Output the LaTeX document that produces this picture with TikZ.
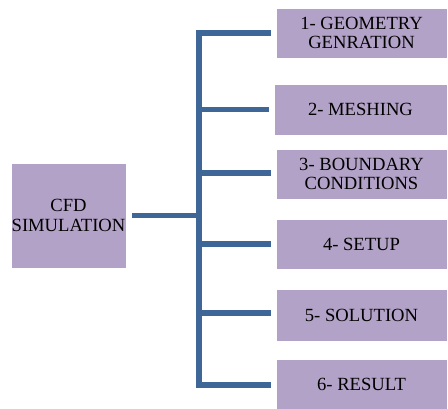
\documentclass[tikz,border=0pt]{standalone}
\usepackage{fontspec}
\setmainfont{Liberation Serif}
\definecolor{boxfill}{HTML}{B3A2C7}
\definecolor{linecol}{HTML}{3E6696}
\begin{document}
\begin{tikzpicture}[x=1pt,y=-1pt,
  box/.style={rectangle,fill=boxfill,draw=white,line width=0.6pt,inner sep=0pt,align=center,
    font=\fontsize{18.6}{19.5}\selectfont,text=black},
  conn/.style={draw=linecol,line width=5.5pt,line join=miter,line cap=butt}]
\useasboundingbox (0,0) rectangle (448,409);
\node[box,minimum width=115pt,minimum height=105pt] (cfd) at (68.5,215.5) {CFD\\SIMULATION};
\node[box,minimum width=171pt,minimum height=50pt] (g1) at (361.5,33) {1- GEOMETRY\\GENRATION};
\node[box,minimum width=173pt,minimum height=51pt] (g2) at (360.5,109.5) {2- MESHING};
\node[box,minimum width=171pt,minimum height=50pt] (g3) at (361.5,174) {3- BOUNDARY\\CONDITIONS};
\node[box,minimum width=171pt,minimum height=50pt] (g4) at (361.5,244) {4- SETUP};
\node[box,minimum width=171pt,minimum height=52pt] (g5) at (361.5,315) {5- SOLUTION};
\node[box,minimum width=171pt,minimum height=50pt] (g6) at (361.5,384) {6- RESULT};
\coordinate (top) at (199,33);
\coordinate (bot) at (199,385);
\coordinate (mid) at (199,215.5);
\draw[conn] ([xshift=-5pt]g1.west) -- (top) -- (bot) -- ([xshift=-5pt,yshift=-1pt]g6.west);
\draw[conn] ([xshift=6pt]cfd.east) -- (mid);
\draw[conn] (199,109.5) -- ([xshift=-5pt]g2.west);
\draw[conn] (199,173) -- ([xshift=-5pt,yshift=1pt]g3.west);
\draw[conn] (199,244) -- ([xshift=-5pt]g4.west);
\draw[conn] (199,313) -- ([xshift=-5pt,yshift=2pt]g5.west);
\end{tikzpicture}
\end{document}
